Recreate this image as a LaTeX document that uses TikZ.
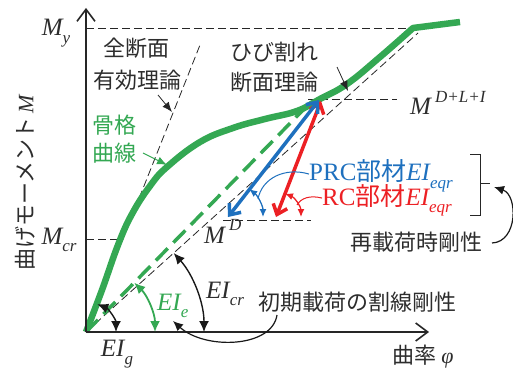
\documentclass[tikz,border=0pt]{standalone}
\usepackage{fontspec}
\setmainfont{Liberation Serif}
\newfontfamily\jp{Noto Sans CJK JP}
\usetikzlibrary{arrows.meta}
\definecolor{sgreen}{RGB}{52,168,83}
\definecolor{sblue}{RGB}{30,112,190}
\definecolor{sred}{RGB}{236,32,36}
\definecolor{tgray}{RGB}{45,45,45}
\newcommand{\lsub}[1]{\raisebox{-0.3em}{\fontsize{17}{17}\selectfont\itshape #1}}
\newcommand{\lsup}[1]{\raisebox{0.5em}{\fontsize{17}{17}\selectfont\itshape #1}}
\begin{document}
\begin{tikzpicture}[x=1pt,y=1pt,
  lbl/.style={font=\fontsize{22}{26}\selectfont\jp, text=tgray, inner sep=0pt},
  mlbl/.style={font=\fontsize{25}{28}\selectfont\itshape, text=tgray, inner sep=0pt},
  axis/.style={line width=1.8pt, black!85, -{Straight Barb[length=12pt,width=18pt,line width=1.6pt]}},
  thin dash/.style={line width=0.8pt, black!85, dash pattern=on 8pt off 4pt},
  sarc/.style={line width=1.4pt, black!90, {Latex[length=11pt,width=10pt]}-{Latex[length=11pt,width=10pt]}},
  garc/.style={line width=1.8pt, sgreen, {Latex[length=11pt,width=10pt]}-{Latex[length=11pt,width=10pt]}},
  ptr/.style={line width=0.8pt, black!85, -{Latex[length=10pt,width=8pt]}},
  bigarrow/.style={line width=3.5pt, {Straight Barb[length=9pt,width=15pt]}-{Straight Barb[length=9pt,width=15pt]}},
  carc/.style={line width=1.3pt, {Latex[length=8pt,width=7pt]}-{Latex[length=8pt,width=7pt]}}]
\useasboundingbox (0,-371) rectangle (513,0);

% key points
\coordinate (O) at (86,-332);
\coordinate (ytop) at (86,-8);
\coordinate (xend) at (429,-332);
\coordinate (Y) at (413,-28);
\coordinate (Yend) at (460,-22);
\coordinate (P) at (319,-100);
\coordinate (Dblue) at (228,-217);
\coordinate (Dred) at (276,-217);

% dashed reference lines
\draw[thin dash] (O) -- (200,-45) coordinate (fulltop);
\draw[thin dash] (O) -- (418,-33) coordinate (cracktop);
\draw[thin dash] (86,-28) coordinate (mya) -- (Y);
\draw[thin dash] (86,-239) coordinate (mcra) -- (119,-239) coordinate (mcrb);
\draw[thin dash] (308,-99) coordinate (mdla) -- (397,-99) coordinate (mdlb);
\draw[thin dash] (223,-220) coordinate (mda) -- (311,-220) coordinate (mdb);

% green secant
\draw[sgreen, line width=3.5pt, dash pattern=on 17pt off 8pt] (O) -- (305,-108) coordinate (gtop);

% skeleton curve
\draw[sgreen, line width=6.5pt, line join=round]
  plot[smooth, tension=0.7] coordinates {(86,-332) (102,-290) (118,-245) (132,-214) (150,-186) (167,-167) (200,-142) (233,-128) (265,-119) (297,-111) (320,-99) (347,-84) (380,-57) (413,-28)} -- (Yend);

% axes
\draw[axis] (O) -- (ytop);
\draw[axis] (O) -- (xend);

% stiffness arcs at origin
\draw[sarc] (O) ++(30,0) arc[start angle=0, end angle=68, radius=30];
\draw[garc] (O) ++(69,0) arc[start angle=0, end angle=45.6, radius=69];
\draw[sarc] (O) ++(118,0) arc[start angle=0, end angle=42, radius=118];

% reload arrows
\draw[bigarrow, sred] (Dred) -- (321,-101);
\draw[bigarrow, sblue] (Dblue) -- (P);
\draw[carc, sblue] (Dblue) ++(35,0) arc[start angle=0, end angle=52.7, radius=35];
\draw[carc, sred] (Dred) ++(25,0) arc[start angle=0, end angle=69, radius=25];

% labels
\node[mlbl] (My) at (56,-33) {M\lsub{y}};
\node[mlbl] (Mcr) at (59,-240) {M\lsub{cr}};
\node[mlbl] (EIg) at (117,-354) {EI\lsub{g}};
\node[lbl, rotate=90] (ylab) at (25,-183) {曲げモーメント\,{\rmfamily\itshape M}};
\node[lbl] (xlab) at (423,-357) {曲率 {\rmfamily\itshape φ}};

\node[lbl] (full1) at (136,-48) {全断面};
\node[lbl] (full2) at (137,-80) {有効理論};
\node[lbl] (crk1) at (274,-52) {ひび割れ};
\node[lbl] (crk2) at (274,-82) {断面理論};
\node[lbl, text=sgreen] (sk1) at (114,-125) {骨格};
\node[lbl, text=sgreen] (sk2) at (114,-153) {曲線};

\node[mlbl, anchor=base west] (MDLI) at (410,-115) {M\,\lsup{D+L+I}};
\node[mlbl, anchor=base west] (MD) at (204,-243) {M\,\lsup{D}};

\node[mlbl, text=sblue, anchor=base west] (prc) at (309,-181) {{\upshape PRC}{\jp 部材}EI\lsub{eqr}};
\node[mlbl, text=sred, anchor=base west] (rc) at (322,-205) {{\upshape RC}{\jp 部材}EI\lsub{eqr}};
\node[lbl] (reload) at (416,-242) {再載荷時剛性};
\node[lbl] (init) at (357,-302) {初期載荷の割線剛性};
\node[mlbl, anchor=base west] (EIcr) at (206,-298) {EI\lsub{cr}};
\node[mlbl, text=sgreen, anchor=base west] (EIe) at (157,-310) {EI\lsub{e}};

% pointers
\draw[ptr] (158,-95) -- (172,-112);
\draw[ptr] (337,-67) -- (348,-91);
\draw[ptr, sgreen, line width=1pt] (143,-153) -- (167,-165);
\draw[line width=1pt, sblue] (prc.west) ++(0,2) .. controls (285,-167) and (262,-178) .. (258,-199);
\draw[line width=1pt, sred] (rc.west) ++(0,2) .. controls (310,-195) and (301,-198) .. (297,-205);
\draw[line width=1.2pt, black!90, -{Latex[length=10pt,width=9pt]}] (277,-315) .. controls (272,-348) and (205,-350) .. (173,-321);

% bracket and reload pointer
\draw[line width=1pt, black!85] (470,-155) -- (480,-155) -- (480,-215) -- (470,-215);
\draw[line width=1pt, black!85] (480,-184) -- (490,-184);
\draw[line width=1.2pt, black!90, -{Latex[length=10pt,width=9pt]}] (492,-243) .. controls (518,-242) and (518,-195) .. (494,-187);
\end{tikzpicture}
\end{document}
